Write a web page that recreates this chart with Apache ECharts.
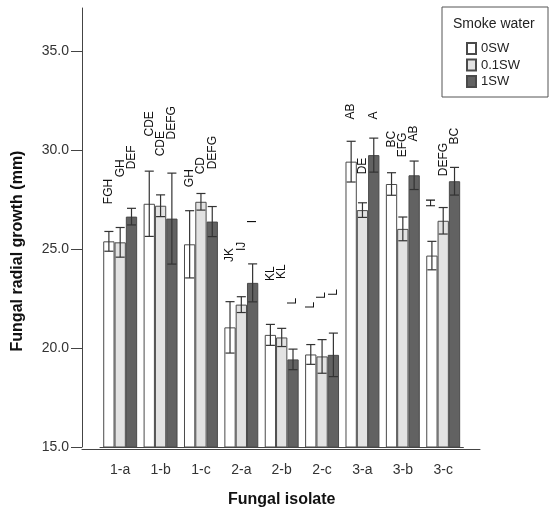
<!DOCTYPE html>
<html>
<head>
<meta charset="utf-8">
<script src="https://cdn.jsdelivr.net/npm/echarts@6/dist/echarts.min.js"></script>
<style>html,body{margin:0;padding:0;background:#fff}#c{width:551px;height:513px}</style>
</head>
<body>
<div id="c"></div>
<script>
// ---- data ----
const categories = ['1-a', '1-b', '1-c', '2-a', '2-b', '2-c', '3-a', '3-b', '3-c'];
const seriesNames = ['0SW', '0.1SW', '1SW'];
const yTicks = [15, 20, 25, 30, 35];

const mean0SW  = [25.40, 27.30, 25.25, 21.05, 20.67, 19.68, 29.43, 28.30, 24.68];
const mean01SW = [25.35, 27.20, 27.40, 22.20, 20.54, 19.58, 26.98, 26.03, 26.44];
const mean1SW  = [26.65, 26.55, 26.40, 23.30, 19.43, 19.66, 29.76, 28.74, 28.44];

const err0SW  = [0.50, 1.65, 1.70, 1.30, 0.53, 0.50, 1.03, 0.57, 0.72];
const err01SW = [0.75, 0.55, 0.42, 0.40, 0.46, 0.85, 0.37, 0.60, 0.67];
const err1SW  = [0.42, 2.30, 0.76, 0.96, 0.52, 1.10, 0.86, 0.72, 0.70];

const letters0SW  = ['FGH', 'CDE', 'GH', 'JK', 'KL', 'L', 'AB', 'BC', 'H'];
const letters01SW = ['GH', 'CDE', 'CD', 'IJ', 'KL', 'L', 'DE', 'EFG', 'DEFG'];
const letters1SW  = ['DEF', 'DEFG', 'DEFG', 'I', 'L', 'L', 'A', 'AB', 'BC'];

// value (mm) at which each letter annotation starts
const letterAt0SW  = [27.28, 30.70, 28.14, 24.36, 23.40, 22.00, 31.56, 30.15, 27.13];
const letterAt01SW = [28.64, 29.70, 28.79, 24.91, 23.50, 22.50, 28.79, 29.65, 28.69];
const letterAt1SW  = [29.04, 30.55, 29.04, 26.31, 22.20, 22.65, 31.56, 30.45, 30.30];

// ---- styling ----
const FONT = "'Liberation Sans', Arial, sans-serif";
const fills = ['#ffffff', '#e2e2e2', '#626262'];
const edge = '#4a4a4a';
const CAT_GAP = 0.16;

const means = [mean0SW, mean01SW, mean1SW];
const errs = [err0SW, err01SW, err1SW];
const letters = [letters0SW, letters01SW, letters1SW];
const letterAt = [letterAt0SW, letterAt01SW, letterAt1SW];

const series = [];
seriesNames.forEach((name, k) => {
  series.push({
    name: name,
    type: 'bar',
    xAxisIndex: 0, yAxisIndex: 0,
    data: means[k],
    barGap: '0%',
    barCategoryGap: (CAT_GAP * 100) + '%',
    itemStyle: { color: fills[k], borderColor: edge, borderWidth: 1 },
    emphasis: { disabled: true },
    z: 2
  });
});

seriesNames.forEach((name, k) => {
  series.push({
    type: 'custom',
    xAxisIndex: 0, yAxisIndex: 0,
    data: categories.map((c, i) => [i, means[k][i], errs[k][i]]),
    encode: { x: 0, y: 1 },
    z: 5,
    silent: true,
    renderItem: function (params, api) {
      const i = api.value(0), m = api.value(1), e = api.value(2);
      const band = api.size([1, 0])[0];
      const bw = band * (1 - CAT_GAP) / 3;
      const cx = api.coord([i, m])[0] + (k - 1) * bw;
      const yt = api.coord([i, m + e])[1];
      const yb = api.coord([i, m - e])[1];
      const half = bw * 0.4;
      const st = { stroke: '#333', lineWidth: 1.2 };
      return {
        type: 'group',
        children: [
          { type: 'line', shape: { x1: cx, y1: yt, x2: cx, y2: yb }, style: st },
          { type: 'line', shape: { x1: cx - half, y1: yt, x2: cx + half, y2: yt }, style: st },
          { type: 'line', shape: { x1: cx - half, y1: yb, x2: cx + half, y2: yb }, style: st }
        ]
      };
    }
  });
  series.push({
    type: 'custom',
    xAxisIndex: 0, yAxisIndex: 0,
    data: categories.map((c, i) => [i, letterAt[k][i]]),
    encode: { x: 0, y: 1 },
    z: 6,
    silent: true,
    renderItem: function (params, api) {
      const i = api.value(0), v = api.value(1);
      const band = api.size([1, 0])[0];
      const bw = band * (1 - CAT_GAP) / 3;
      const p = api.coord([i, v]);
      return {
        type: 'text',
        x: p[0] + (k - 1) * bw,
        y: p[1],
        rotation: Math.PI / 2,
        style: {
          text: letters[k][params.dataIndex],
          fontSize: 12, fontFamily: FONT, fill: '#111',
          align: 'left', verticalAlign: 'middle'
        }
      };
    }
  });
});

const chart = echarts.init(document.getElementById('c'), null, { renderer: 'canvas' });
chart.setOption({
  animation: false,
  backgroundColor: '#fff',
  grid: [
    { left: 100, width: 363.4, top: 8, bottom: 64 },
    { left: 82, width: 398, top: 8, bottom: 64 }
  ],
  title: {
    text: 'Smoke water',
    left: 453, top: 17,
    textStyle: { fontSize: 14, fontWeight: 'normal', fontFamily: FONT, color: '#222' },
    padding: 0,
    z: 10
  },
  legend: {
    data: seriesNames,
    orient: 'vertical',
    left: 442, top: 7,
    padding: [35, 28, 9, 24],
    borderColor: '#555', borderWidth: 1,
    backgroundColor: '#fff',
    icon: 'rect',
    itemWidth: 9, itemHeight: 11, itemGap: 3.5,
    selectedMode: false,
    textStyle: { fontSize: 13, fontFamily: FONT, color: '#222', lineHeight: 12 }
  },
  xAxis: [
    {
      type: 'category', gridIndex: 0, data: categories,
      name: 'Fungal isolate', nameLocation: 'middle', nameGap: 45,
      nameTextStyle: { fontSize: 16, fontWeight: 'bold', fontFamily: FONT, color: '#111' },
      axisLine: { lineStyle: { color: '#444', width: 1 } },
      axisTick: { alignWithLabel: true, length: 11, lineStyle: { color: '#444' } },
      axisLabel: { fontSize: 14, fontFamily: FONT, color: '#333', margin: 16, interval: 0 }
    },
    {
      type: 'category', gridIndex: 1, data: categories,
      axisLine: { lineStyle: { color: '#444', width: 1 } },
      axisTick: { show: false }, axisLabel: { show: false }
    }
  ],
  yAxis: [
    {
      type: 'value', gridIndex: 0, min: 15, max: 37.2, interval: 5,
      offset: 18,
      axisLine: { show: true, lineStyle: { color: '#444', width: 1 } },
      axisTick: { show: true, length: 11, lineStyle: { color: '#444' }, customValues: yTicks },
      axisLabel: { fontSize: 14, fontFamily: FONT, color: '#333', margin: 13,
                   customValues: yTicks, formatter: v => v.toFixed(1) },
      splitLine: { show: false }
    },
    { type: 'value', gridIndex: 1, min: 15, max: 37.2, show: false }
  ],
  graphic: [{
    type: 'text', x: 18, y: 251, rotation: Math.PI / 2,
    style: { text: 'Fungal radial growth (mm)', fontSize: 16, fontWeight: 'bold',
             fontFamily: FONT, fill: '#111', align: 'center', verticalAlign: 'middle' }
  }],
  series: series
});
</script>
</body>
</html>
